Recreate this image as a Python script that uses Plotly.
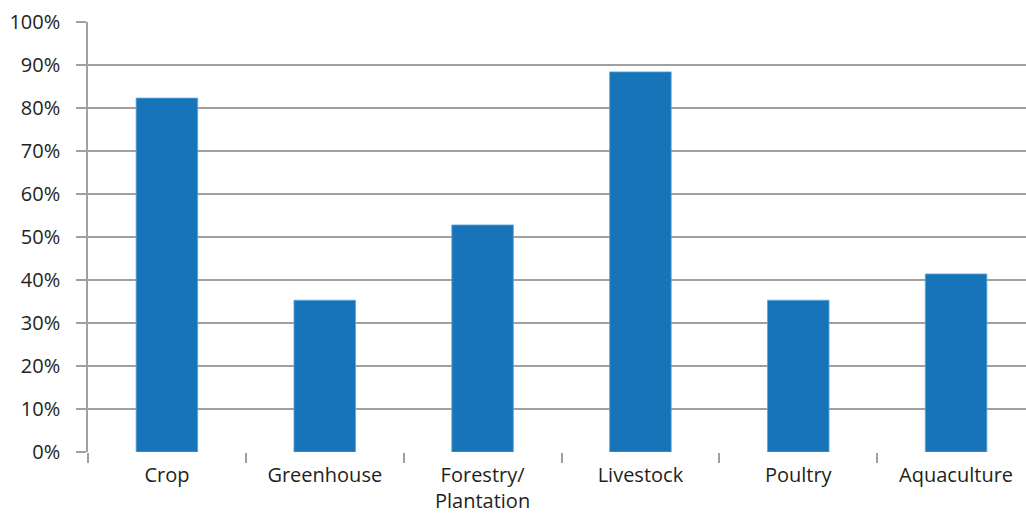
import plotly.graph_objects as go

categories = ["Crop", "Greenhouse", "Forestry/<br>Plantation", "Livestock", "Poultry", "Aquaculture"]
values = [0.823, 0.353, 0.528, 0.884, 0.353, 0.414]
y_ticks = [0, 0.1, 0.2, 0.3, 0.4, 0.5, 0.6, 0.7, 0.8, 0.9, 1.0]
y_tick_labels = ["0%", "10%", "20%", "30%", "40%", "50%", "60%", "70%", "80%", "90%", "100%"]

font_color = "#231f20"
grid_color = "#a0a0a0"

fig = go.Figure(go.Bar(
    x=categories, y=values,
    marker=dict(color="#1874b9", line=dict(color="#5aa7dc", width=0.8)),
    width=0.39,
))

fig.update_layout(
    width=1026, height=514,
    margin=dict(l=88, r=0, t=22, b=62),
    paper_bgcolor="white", plot_bgcolor="white",
    showlegend=False,
    font=dict(family="Open Sans", size=20, color=font_color),
)
fig.update_xaxes(
    type="category",
    range=[-0.5, 5.443],
    tickson="boundaries",
    ticks="outside", ticklen=10, tickwidth=1.5, tickcolor=grid_color,
    showline=False, showgrid=False,
    automargin=False,
    ticklabelstandoff=9,
    tickfont=dict(size=20, color=font_color),
)
fig.update_yaxes(
    range=[0, 1.0],
    tickvals=y_ticks, ticktext=y_tick_labels,
    ticks="outside", ticklen=10, tickwidth=1.5, tickcolor=grid_color,
    showgrid=True, gridcolor=grid_color, gridwidth=1.6,
    showline=True, linecolor=grid_color, linewidth=1.5,
    zeroline=False,
    automargin=False,
    ticklabelstandoff=12,
    tickfont=dict(size=20, color=font_color),
)

fig.write_html("out.html")
